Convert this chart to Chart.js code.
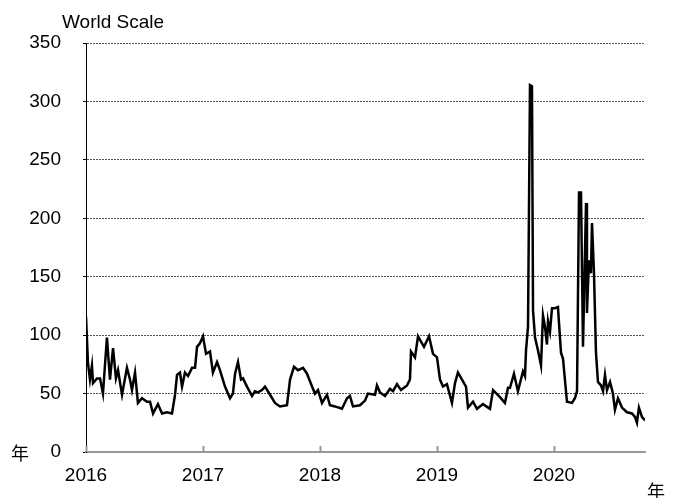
<!DOCTYPE html>
<html>
<head>
<meta charset="utf-8">
<script src="https://cdn.jsdelivr.net/npm/chart.js@4.4.0/dist/chart.umd.min.js"></script>
<style>
  html, body { margin: 0; padding: 0; background: #fff; }
  #wrap { width: 676px; height: 498px; }
</style>
</head>
<body>
<div id="wrap"><canvas id="c" width="676" height="498"></canvas></div>
<script>
// decimal year of each reading
const years = [
  2016.000, 2016.017, 2016.034, 2016.051, 2016.060, 2016.094, 2016.120, 2016.145, 2016.179, 2016.205,
  2016.231, 2016.256, 2016.274, 2016.308, 2016.350, 2016.376, 2016.393, 2016.419, 2016.444, 2016.479,
  2016.521, 2016.547, 2016.573, 2016.615, 2016.650, 2016.692, 2016.735, 2016.761, 2016.778, 2016.803,
  2016.821, 2016.846, 2016.872, 2016.906, 2016.932, 2016.949, 2016.974, 2017.000, 2017.026, 2017.060,
  2017.085, 2017.120, 2017.145, 2017.188, 2017.231, 2017.256, 2017.274, 2017.299, 2017.325, 2017.342,
  2017.376, 2017.419, 2017.444, 2017.470, 2017.504, 2017.530, 2017.573, 2017.615, 2017.658, 2017.718,
  2017.744, 2017.778, 2017.812, 2017.855, 2017.889, 2017.932, 2017.957, 2017.983, 2018.017, 2018.060,
  2018.085, 2018.128, 2018.188, 2018.231, 2018.256, 2018.282, 2018.342, 2018.385, 2018.410, 2018.470,
  2018.487, 2018.513, 2018.556, 2018.598, 2018.624, 2018.658, 2018.692, 2018.744, 2018.769, 2018.778,
  2018.812, 2018.838, 2018.889, 2018.932, 2018.966, 2019.000, 2019.026, 2019.051, 2019.085, 2019.128,
  2019.154, 2019.179, 2019.214, 2019.248, 2019.265, 2019.308, 2019.342, 2019.393, 2019.453, 2019.479,
  2019.538, 2019.581, 2019.607, 2019.624, 2019.658, 2019.692, 2019.735, 2019.752, 2019.761, 2019.778,
  2019.795, 2019.812, 2019.821, 2019.838, 2019.863, 2019.889, 2019.906, 2019.923, 2019.940, 2019.949,
  2019.966, 2019.983, 2020.009, 2020.034, 2020.060, 2020.077, 2020.111, 2020.154, 2020.179, 2020.197,
  2020.214, 2020.231, 2020.248, 2020.274, 2020.282, 2020.299, 2020.316, 2020.325, 2020.342, 2020.359,
  2020.376, 2020.402, 2020.419, 2020.436, 2020.453, 2020.479, 2020.504, 2020.521, 2020.547, 2020.581,
  2020.624, 2020.667, 2020.692, 2020.709, 2020.726, 2020.752, 2020.778
];

// World Scale
const ws = [
  116, 76, 62, 74, 59, 63, 63, 50, 98, 62,
  89, 63, 70, 49, 72, 62, 53, 68, 42, 46,
  43, 43, 33, 41, 33, 34, 33, 49, 66, 68,
  56, 68, 65, 72, 72, 90, 93, 99, 84, 86,
  68, 77, 70, 56, 46, 50, 67, 77, 62, 63,
  56, 48, 52, 51, 53, 56, 49, 42, 39, 40,
  62, 73, 70, 72, 67, 56, 50, 53, 42, 49,
  40, 39, 37, 46, 48, 39, 40, 44, 50, 49,
  57, 51, 48, 54, 52, 58, 53, 57, 62, 86,
  81, 99, 90, 99, 84, 81, 62, 56, 58, 42,
  59, 68, 62, 56, 38, 43, 37, 41, 37, 53,
  47, 42, 55, 55, 67, 52, 69, 65, 87, 107,
  314, 313, 121, 98, 87, 74, 117, 107, 92, 112,
  103, 123, 123, 124, 85, 80, 43, 42, 46, 52,
  222, 222, 90, 213, 119, 164, 153, 196, 153, 85,
  60, 57, 52, 66, 53, 60, 50, 36, 46, 38,
  34, 33, 30, 25, 38, 30, 27
];

const yearTicks = [2016, 2017, 2018, 2019, 2020];
const yTicks = [0, 50, 100, 150, 200, 250, 300, 350];

const FONT = '"Liberation Sans", Arial, sans-serif';
const JP = '"Noto Sans CJK JP", sans-serif';

// 軸の内側向きの目盛りと文字
const extras = {
  id: 'extras',
  afterDraw(chart) {
    const ctx = chart.ctx;
    const x = chart.scales.x;
    const y = chart.scales.y;
    ctx.save();
    ctx.strokeStyle = '#999';
    ctx.lineWidth = 2;
    yearTicks.forEach(t => {
      const px = Math.round(x.getPixelForValue(t)) + 0.5;
      ctx.beginPath();
      ctx.moveTo(px, y.bottom);
      ctx.lineTo(px, y.bottom - 6);
      ctx.stroke();
    });
    ctx.fillStyle = '#000';
    ctx.font = '19px ' + FONT;
    ctx.textBaseline = 'middle';
    ctx.textAlign = 'left';
    ctx.fillText('World Scale', 62, 23);
    ctx.font = '18px ' + JP;
    ctx.fillText('年', 11, 453);
    ctx.textBaseline = 'top';
    ctx.fillText('年', 647, 482);
    ctx.restore();
  }
};

new Chart(document.getElementById('c'), {
  type: 'line',
  data: {
    datasets: [{
      data: years.map((t, i) => ({ x: t, y: ws[i] })),
      borderColor: '#000',
      borderWidth: 2.5,
      pointRadius: 0,
      tension: 0,
      fill: false
    }]
  },
  options: {
    responsive: false,
    animation: false,
    layout: { padding: { top: 43, right: 31, bottom: 0, left: 0 } },
    plugins: { legend: { display: false }, tooltip: { enabled: false } },
    scales: {
      x: {
        type: 'linear',
        min: 2016,
        max: 2020.778,
        afterBuildTicks: s => { s.ticks = yearTicks.map(v => ({ value: v })); },
        afterFit: s => { s.height = 46; },
        grid: { display: false },
        border: { color: '#999', width: 2 },
        ticks: {
          color: '#000',
          font: { family: FONT, size: 19 },
          padding: 4,
          maxRotation: 0,
          callback: v => String(v)
        }
      },
      y: {
        min: 0,
        max: 350,
        afterBuildTicks: s => { s.ticks = yTicks.map(v => ({ value: v })); },
        afterFit: s => { s.width = 86; },
        grid: {
          color: ctx => ctx.tick && ctx.tick.value === 0 ? 'rgba(0,0,0,0)' : '#555',
          lineWidth: 1,
          tickColor: '#000',
          tickLength: 3,
          drawTicks: true
        },
        border: { color: '#000', width: 1, dash: [2, 1] },
        ticks: {
          color: '#000',
          font: { family: FONT, size: 19 },
          padding: 22
        }
      }
    }
  },
  plugins: [extras]
});
</script>
</body>
</html>
